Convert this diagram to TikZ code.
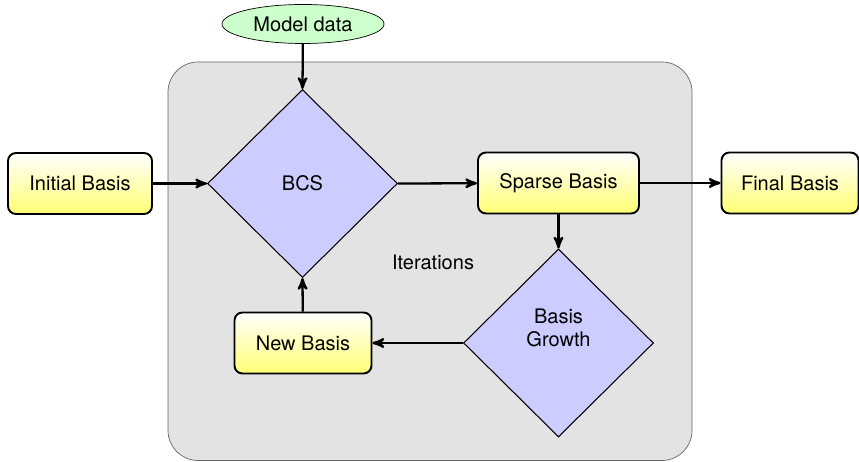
\documentclass[tikz,border=0pt]{standalone}
\usepackage{fontspec}
\setmainfont{TeX Gyre Heros}
\usetikzlibrary{arrows,shapes.geometric}
\tikzset{font=\fontsize{11.4}{13.6}\selectfont}
\tikzset{basis/.style={draw, line width=1.1pt, rounded corners=0.16cm,
    top color=white, bottom color=yellow!55,
    minimum width=2.74cm, minimum height=1.22cm}}
\tikzset{decide/.style={diamond, draw, line width=0.6pt, fill=blue!20,
    aspect=1, minimum width=3.8cm, minimum height=3.76cm, align=center}}
\tikzset{flow/.style={line width=1.3pt, -stealth'}}

\begin{document}
\begin{tikzpicture}
  \useasboundingbox (0,0) rectangle (17.18,9.24);
  \draw[black!60, fill=black!11, rounded corners=0.6cm] (3.36,0.03) rectangle (13.84,8.0);

  \node[ellipse, draw, fill=green!20, minimum width=3.24cm, minimum height=0.78cm] (model) at (6.06,8.76) {Model data};
  \node[decide] (bcs) at (6.05,5.57) {BCS};
  \node[basis, minimum width=2.88cm] (initial) at (1.60,5.57) {Initial Basis};
  \node[basis, minimum width=3.22cm] (sparse) at (11.17,5.58) {Sparse Basis};
  \node[basis] (final) at (15.80,5.58) {Final Basis};
  \node[decide] (growth) at (11.17,2.38)
    {\raisebox{0.16cm}[0pt][0pt]{\begin{tabular}{@{}c@{}}Basis\\Growth\end{tabular}}};
  \node[basis] (new) at (6.06,2.38) {New Basis};
  \node (iter) at (8.66,4.00) {Iterations};

  \draw[flow] (model) -- (bcs.north);
  \draw[flow] (initial) -- (bcs.west);
  \draw[flow] (bcs.east) -- (sparse);
  \draw[flow] (sparse) -- (final);
  \draw[flow] (sparse) -- (growth.north);
  \draw[flow] (growth.west) -- (new);
  \draw[flow] (new) -- (bcs.south);
\end{tikzpicture}
\end{document}
